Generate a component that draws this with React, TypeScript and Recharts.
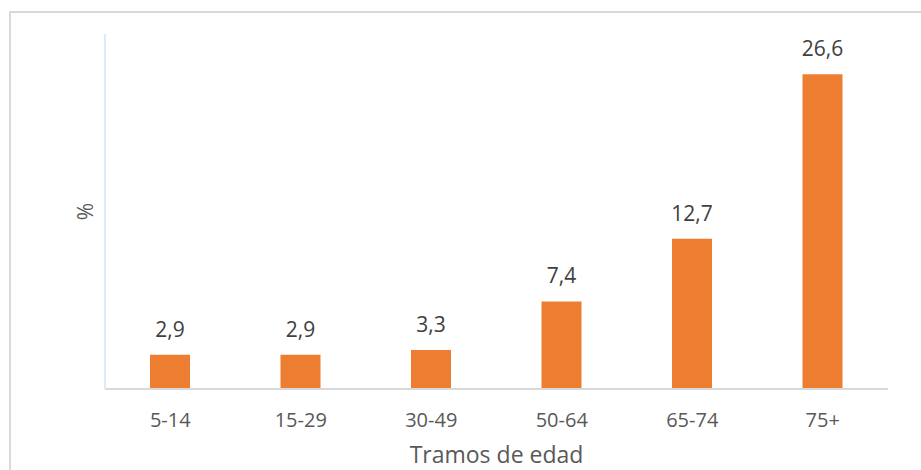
import { BarChart, Bar, XAxis, YAxis, LabelList, Label } from "recharts";

const categories = ["5-14", "15-29", "30-49", "50-64", "65-74", "75+"];
const values = [2.9, 2.9, 3.3, 7.4, 12.7, 26.6];

const data = categories.map((name, i) => ({ name, value: values[i] }));

const FONT = "'Open Sans', sans-serif";

export default function App() {
  return (
    <div style={{ position: "fixed", left: 0, top: 0, width: 921, height: 470, overflow: "hidden", background: "#fff" }}>
      <div
        style={{
          position: "absolute",
          left: 9,
          top: 11,
          width: 940,
          height: 490,
          border: "2px solid #d9d9d9",
          boxSizing: "border-box",
        }}
      />
      <div style={{ position: "absolute", left: 0, top: 0 }}>
        <BarChart
          width={921}
          height={470}
          data={data}
          margin={{ top: 34, right: 33, left: 0, bottom: 0 }}
          style={{ fontFamily: FONT }}
        >
          <XAxis
            dataKey="name"
            height={81}
            axisLine={{ stroke: "#d9d9d9", strokeWidth: 2 }}
            tickLine={false}
            tickSize={0}
            tickMargin={24}
            tick={{ fill: "#595959", fontSize: 20 }}
          >
            <Label value="Tramos de edad" position="insideBottom" offset={7} fill="#595959" fontSize={23} />
          </XAxis>
          <XAxis
            xAxisId="top"
            dataKey="name"
            orientation="top"
            height={0}
            tick={false}
            tickLine={false}
            axisLine={{ stroke: "#deebf7", strokeWidth: 2 }}
          />
          <YAxis
            width={105}
            domain={[0, 30]}
            tick={false}
            tickLine={false}
            axisLine={{ stroke: "#deebf7", strokeWidth: 2 }}
          >
            <Label
              content={({ viewBox }: any) => {
                const cx = viewBox.x + viewBox.width - 20;
                const cy = viewBox.y + viewBox.height / 2;
                return (
                  <text x={cx} y={cy} transform={`rotate(-90 ${cx} ${cy})`} textAnchor="middle" dominantBaseline="central" fill="#595959" fontSize={21} fontFamily={FONT}>
                    %
                  </text>
                );
              }}
            />
          </YAxis>
          <YAxis
            yAxisId="right"
            orientation="right"
            width={0}
            domain={[0, 30]}
            tick={false}
            tickLine={false}
            axisLine={{ stroke: "#deebf7", strokeWidth: 2 }}
          />
          <Bar dataKey="value" fill="#ed7d31" barSize={40} isAnimationActive={false}>
            <LabelList
              dataKey="value"
              position="top"
              offset={18}
              fill="#404040"
              fontSize={21}
              formatter={(v: any) => String(v).replace(".", ",")}
            />
          </Bar>
        </BarChart>
      </div>
    </div>
  );
}
